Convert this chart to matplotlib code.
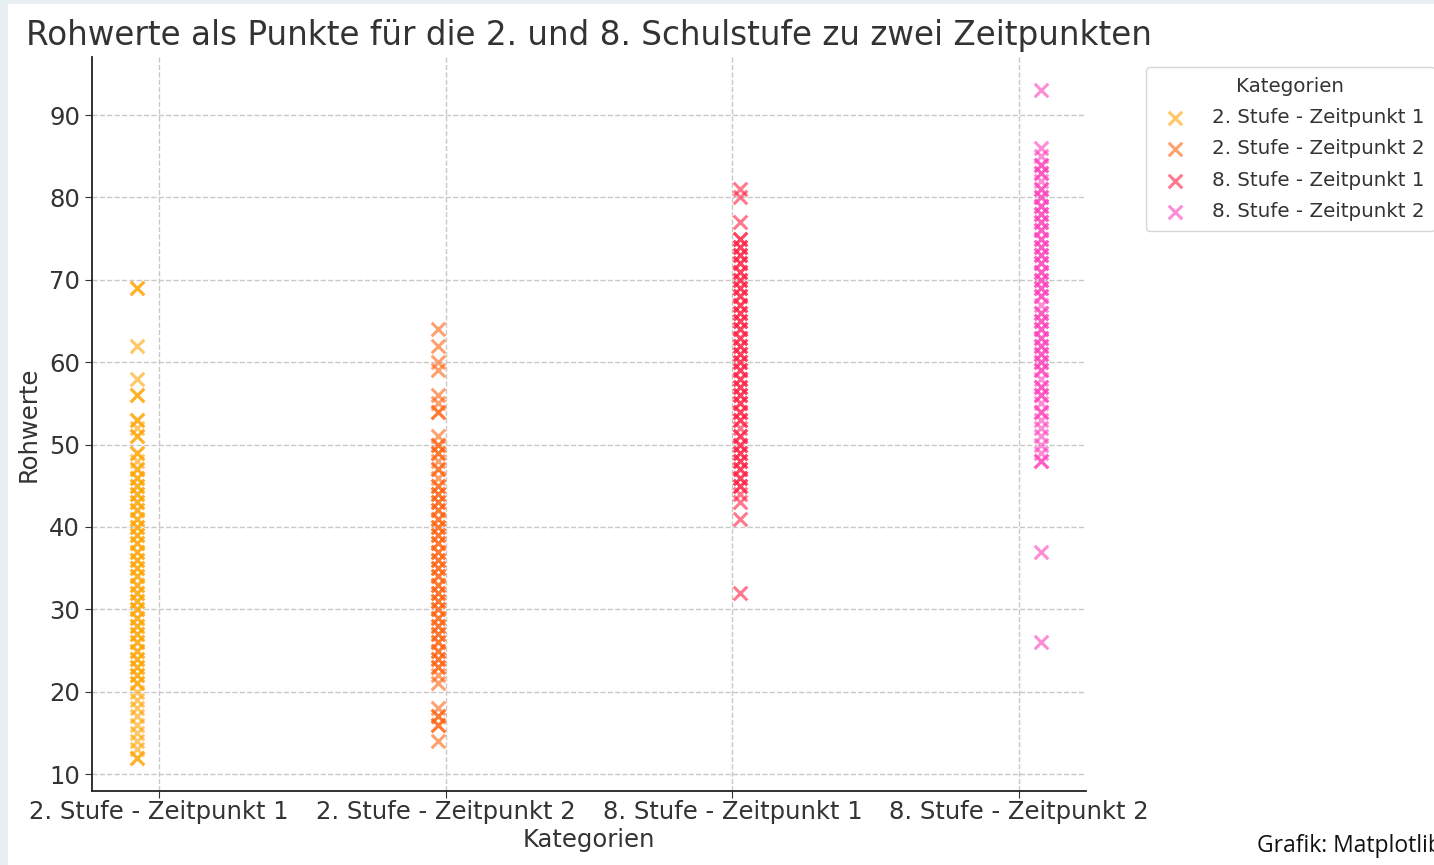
import matplotlib
matplotlib.use("Agg")
import matplotlib.pyplot as plt
from matplotlib.patches import Rectangle

# --- data ---
categories = ["2. Stufe - Zeitpunkt 1", "2. Stufe - Zeitpunkt 2",
              "8. Stufe - Zeitpunkt 1", "8. Stufe - Zeitpunkt 2"]

stufe2_zp1 = [69, 69, 62, 58, 56, 56, 53, 53, 52, 51, 51, 49, 49, 48, 47, 47, 46, 46,
              45, 45, 44, 44, 43, 43, 42, 42, 41, 41, 40, 40, 39, 39, 38, 38, 37, 37,
              36, 36, 35, 35, 34, 34, 33, 33, 32, 32, 31, 31, 30, 30, 29, 29, 28, 28,
              27, 27, 26, 26, 25, 25, 24, 24, 23, 23, 22, 22, 21, 21, 20, 19, 18, 17,
              16, 15, 14, 13, 12, 12]
stufe2_zp2 = [64, 62, 60, 59, 56, 55, 54, 54, 51, 50, 50, 49, 49, 48, 47, 47, 46, 45,
              45, 44, 44, 43, 43, 42, 42, 41, 41, 40, 40, 39, 39, 38, 38, 37, 37, 36,
              36, 35, 35, 34, 34, 33, 33, 32, 32, 31, 31, 30, 30, 29, 29, 28, 28, 27,
              27, 26, 26, 25, 25, 24, 24, 23, 23, 22, 21, 18, 17, 17, 16, 16, 14]
stufe8_zp1 = [81, 80, 77, 75, 75, 74, 74, 73, 73, 72, 72, 71, 71, 70, 70, 69, 69, 68,
              68, 67, 67, 66, 66, 65, 65, 64, 64, 63, 63, 62, 62, 61, 61, 60, 60, 59,
              59, 58, 58, 57, 57, 56, 56, 55, 55, 54, 54, 53, 53, 52, 51, 51, 50, 50,
              49, 49, 48, 48, 47, 47, 46, 46, 45, 45, 44, 43, 41, 32]
stufe8_zp2 = [93, 86, 85, 84, 84, 83, 83, 82, 81, 81, 80, 80, 79, 79, 78, 78, 77, 77,
              76, 76, 75, 75, 74, 74, 73, 73, 72, 72, 71, 71, 70, 70, 69, 69, 68, 68,
              67, 66, 66, 65, 65, 64, 64, 63, 63, 62, 62, 61, 61, 60, 60, 59, 59, 58,
              57, 57, 56, 56, 55, 54, 54, 53, 52, 51, 50, 49, 48, 48, 37, 26]

series = [stufe2_zp1, stufe2_zp2, stufe8_zp1, stufe8_zp2]
colors = ["#FFA300", "#FF620E", "#FF1E42", "#FF3FBC"]
offsets = [-0.075, -0.025, 0.025, 0.075]

TEXT = "#333333"

fig = plt.figure(figsize=(14.34, 8.65), dpi=100)
fig.patch.set_facecolor("#E7EFF1")
fig.patches.append(Rectangle((8 / 1434, 0), 1.0, 1 - 4 / 865, transform=fig.transFigure,
                             facecolor="white", edgecolor="none", zorder=-10))

ax = fig.add_axes([92 / 1434, 1 - 791 / 865, (1086 - 92) / 1434, (791 - 57) / 865])
ax.set_facecolor("white")

for i, (vals, col, off, name) in enumerate(zip(series, colors, offsets, categories)):
    ax.scatter([i + off] * len(vals), vals, marker="x", s=95, linewidths=2.2,
               color=col, alpha=0.6, label=name, zorder=3)

ax.set_xticks(range(len(categories)))
ax.set_xticklabels(categories)
ax.set_yticks(range(10, 91, 10))
ax.tick_params(labelsize=17.5, colors=TEXT, length=5)
ax.tick_params(axis="x", pad=1.5)

ax.grid(True, linestyle="--", color="#C8C8C8", linewidth=1)
ax.set_axisbelow(True)
for side in ["top", "right"]:
    ax.spines[side].set_visible(False)
for side in ["left", "bottom"]:
    ax.spines[side].set_color("#222222")
    ax.spines[side].set_linewidth(1.3)

ax.set_title("Rohwerte als Punkte für die 2. und 8. Schulstufe zu zwei Zeitpunkten",
             fontsize=23.5, color=TEXT, pad=9)
ax.set_xlabel("Kategorien", fontsize=17.5, color=TEXT, labelpad=2.5)
ax.set_ylabel("Rohwerte", fontsize=17.5, color=TEXT, labelpad=6)

leg = ax.legend(title="Kategorien", loc="upper left", bbox_to_anchor=(1.05, 1.0),
                fontsize=14.3, title_fontsize=14.3, frameon=True, handletextpad=0.85,
                labelspacing=0.62, borderpad=0.5)
leg.get_frame().set_edgecolor("#CCCCCC")
for t in leg.get_texts():
    t.set_color(TEXT)
leg.get_title().set_color(TEXT)

fig.text(1257 / 1434, 1 - 846 / 865, "Grafik: Matplotlib", fontsize=16.5,
         family="Open Sans", color="#111111", va="center", ha="left")

fig.savefig("out.png", dpi=100, facecolor=fig.get_facecolor())
